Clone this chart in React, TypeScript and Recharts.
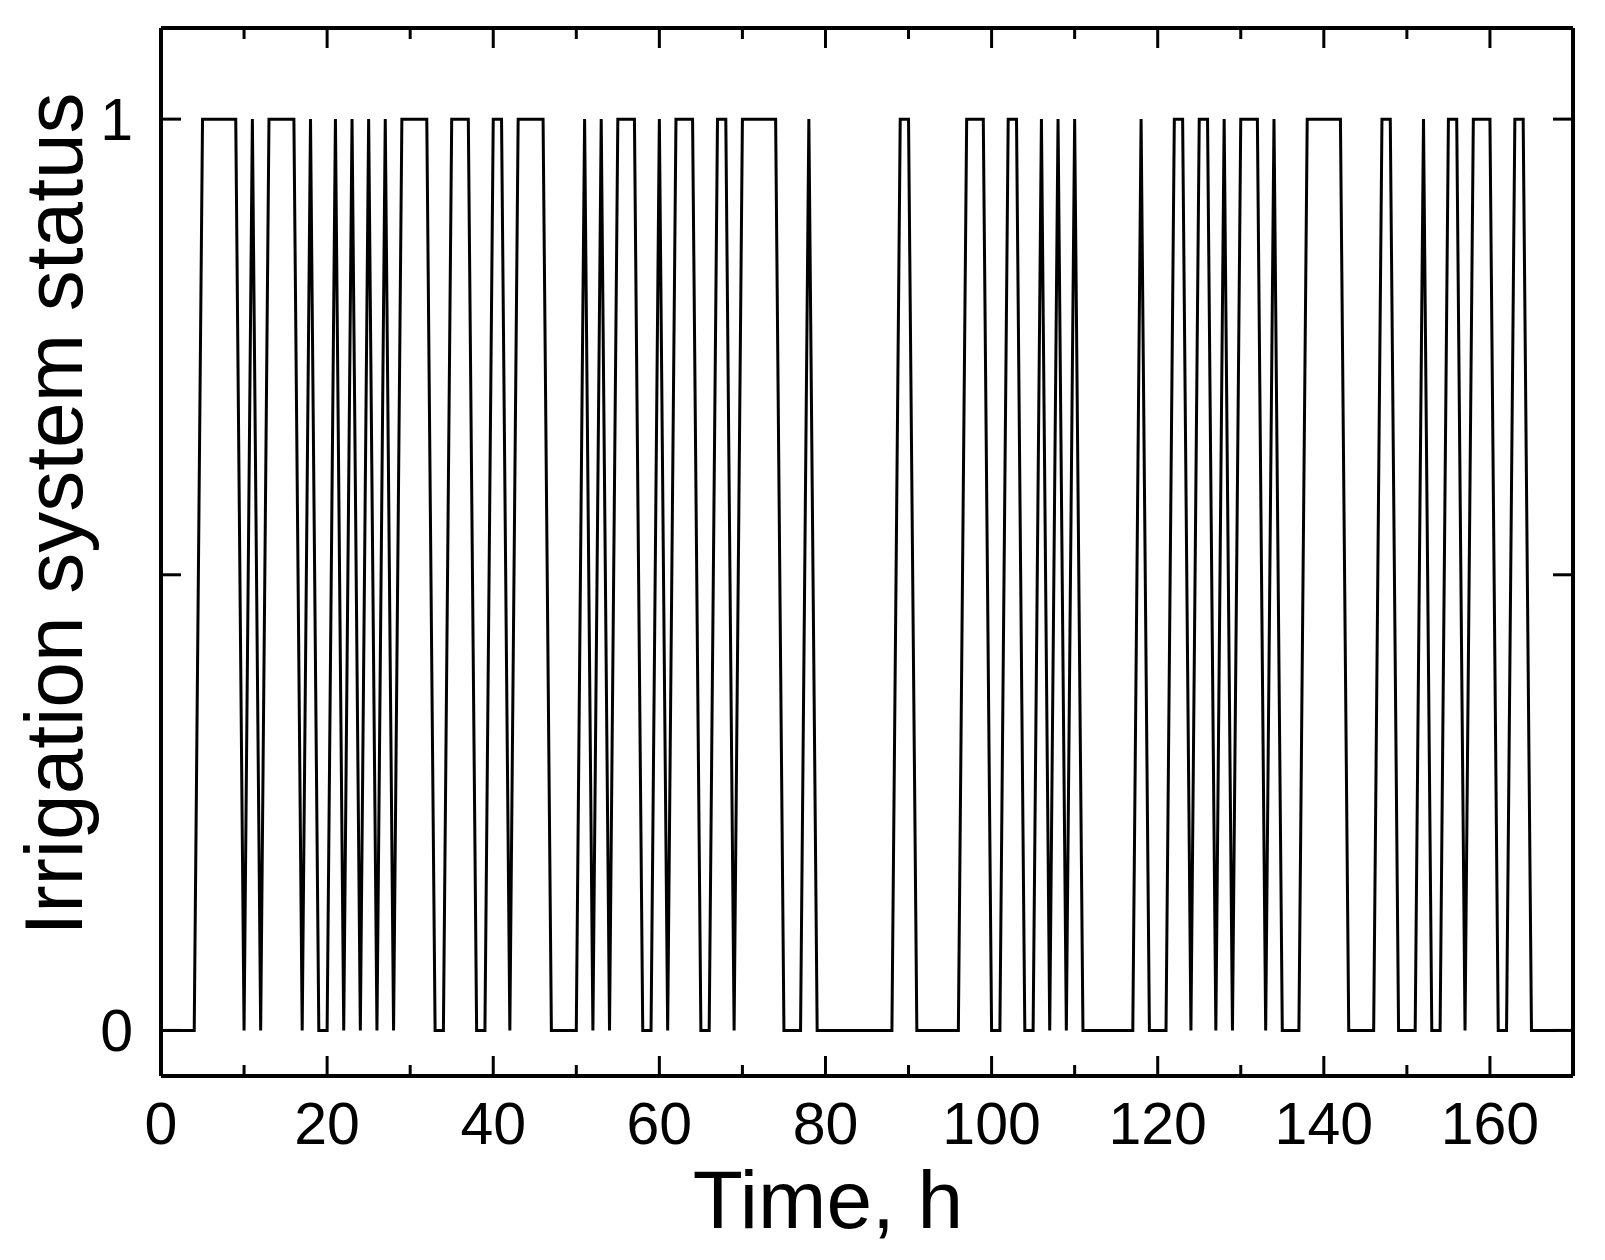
import React from 'react';
import { LineChart, Line, XAxis, YAxis, Label } from 'recharts';

// Irrigation system status (0 = off, 1 = on), one reading per hour starting at 0 h
const statusByHour = [
  0, 0, 0, 0, 0, 1, 1, 1, 1, 1,
  0, 1, 0, 1, 1, 1, 1, 0, 1, 0,
  0, 1, 0, 1, 0, 1, 0, 1, 0, 1,
  1, 1, 1, 0, 0, 1, 1, 1, 0, 0,
  1, 1, 0, 1, 1, 1, 1, 0, 0, 0,
  0, 1, 0, 1, 0, 1, 1, 1, 0, 0,
  1, 0, 1, 1, 1, 0, 0, 1, 1, 0,
  1, 1, 1, 1, 1, 0, 0, 0, 1, 0,
  0, 0, 0, 0, 0, 0, 0, 0, 0, 1,
  1, 0, 0, 0, 0, 0, 0, 1, 1, 1,
  0, 0, 1, 1, 0, 0, 1, 0, 1, 0,
  1, 0, 0, 0, 0, 0, 0, 0, 1, 0,
  0, 0, 1, 1, 0, 1, 1, 0, 1, 0,
  1, 1, 1, 0, 1, 0, 0, 0, 1, 1,
  1, 1, 1, 0, 0, 0, 0, 1, 1, 0,
  0, 0, 1, 0, 0, 1, 1, 0, 1, 1,
  1, 0, 0, 1, 1, 0, 0, 0, 0,
];

const xMajorTicks = [0, 20, 40, 60, 80, 100, 120, 140, 160];
const xMinorTicks = [10, 30, 50, 70, 90, 110, 130, 150, 170];
const yTickMarks = [0, 0.5, 1];
const yTickLabels = [0, 1];
const xDomain = [0, 170];
const yDomain = [-0.05, 1.1];

const xTitle = 'Time, h';
const yTitle = 'Irrigation system status';

const data = statusByHour.map((s, i) => ({ t: i, s }));

const FONT = '"Liberation Sans", Arial, sans-serif';
const INK = '#000';

const XTitle = (props: any) => {
  const vb = props.viewBox || {};
  return (
    <text
      x={vb.x + vb.width / 2 - 39}
      y={vb.y + 152}
      textAnchor="middle"
      fontFamily={FONT}
      fontSize={82}
      fill={INK}
    >
      {xTitle}
    </text>
  );
};

const YTitle = (props: any) => {
  const vb = props.viewBox || {};
  const cx = vb.x + 82;
  const cy = vb.y + vb.height / 2 - 38;
  return (
    <text
      x={cx}
      y={cy}
      textAnchor="middle"
      fontFamily={FONT}
      fontSize={82}
      fill={INK}
      transform={`rotate(-90, ${cx}, ${cy})`}
    >
      {yTitle}
    </text>
  );
};

const NoLabel = () => <g />;

const tickFont = { fontSize: 59, fill: INK, fontFamily: FONT };
const tickStroke = { stroke: INK, strokeWidth: 3 };

export default function App() {
  return (
    <div style={{ position: 'absolute', left: 0, top: 0, background: '#fff' }}>
      <LineChart
        width={1605}
        height={1260}
        data={data}
        margin={{ top: 28, right: 32, bottom: 0, left: 0 }}
      >
        {/* bottom axis with labels */}
        <XAxis
          xAxisId="b"
          dataKey="t"
          type="number"
          domain={xDomain}
          ticks={xMajorTicks}
          interval={0}
          orientation="bottom"
          height={184}
          axisLine={{ stroke: INK, strokeWidth: 4 }}
          tickLine={false}
          tickSize={0}
          tickMargin={26}
          tick={tickFont}
          allowDataOverflow
        >
          <Label content={XTitle} />
        </XAxis>
        {/* inward tick marks, bottom */}
        <XAxis xAxisId="bmaj" dataKey="t" type="number" domain={xDomain} ticks={xMajorTicks} interval={0}
          orientation="bottom" mirror height={1} tickSize={20} tick={NoLabel} axisLine={false} tickLine={tickStroke} allowDataOverflow />
        <XAxis xAxisId="bmin" dataKey="t" type="number" domain={xDomain} ticks={xMinorTicks} interval={0}
          orientation="bottom" mirror height={1} tickSize={10} tick={NoLabel} axisLine={false} tickLine={tickStroke} allowDataOverflow />
        {/* top frame + inward ticks */}
        <XAxis xAxisId="tmaj" dataKey="t" type="number" domain={xDomain} ticks={xMajorTicks} interval={0}
          orientation="top" mirror height={1} tickSize={20} tick={NoLabel} axisLine={{ stroke: INK, strokeWidth: 4 }} tickLine={tickStroke} allowDataOverflow />
        <XAxis xAxisId="tmin" dataKey="t" type="number" domain={xDomain} ticks={xMinorTicks} interval={0}
          orientation="top" mirror height={1} tickSize={10} tick={NoLabel} axisLine={false} tickLine={tickStroke} allowDataOverflow />

        {/* left axis with labels */}
        <YAxis
          yAxisId="l"
          type="number"
          domain={yDomain}
          ticks={yTickLabels}
          interval={0}
          orientation="left"
          width={161}
          axisLine={{ stroke: INK, strokeWidth: 4 }}
          tickLine={false}
          tickSize={0}
          tickMargin={28}
          tick={tickFont}
          allowDataOverflow
        >
          <Label content={YTitle} />
        </YAxis>
        <YAxis yAxisId="lt" type="number" domain={yDomain} ticks={yTickMarks} interval={0}
          orientation="left" mirror width={1} tickSize={20} tick={NoLabel} axisLine={false} tickLine={tickStroke} allowDataOverflow />
        <YAxis yAxisId="rt" type="number" domain={yDomain} ticks={yTickMarks} interval={0}
          orientation="right" mirror width={1} tickSize={20} tick={NoLabel} axisLine={{ stroke: INK, strokeWidth: 4 }} tickLine={tickStroke} allowDataOverflow />

        <Line
          xAxisId="b"
          yAxisId="l"
          type="linear"
          dataKey="s"
          stroke={INK}
          strokeWidth={3}
          dot={false}
          activeDot={false}
          isAnimationActive={false}
        />
      </LineChart>
    </div>
  );
}
